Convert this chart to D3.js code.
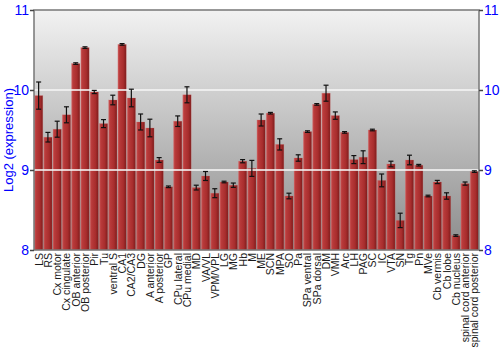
<!DOCTYPE html>
<html>
<head>
<meta charset="utf-8">
<script src="https://cdn.jsdelivr.net/npm/d3@7"></script>
<style>
  body { margin: 0; background: #fff; }
  text { font-family: "Liberation Sans", Arial, sans-serif; }
</style>
</head>
<body>
<div class="visualization"></div>
<script>
const regions = ["LS", "RS", "Cx motor", "Cx cingulate", "OB anterior", "OB posterior", "Pir", "Tu",
  "ventral S", "CA1", "CA2/CA3", "DG", "A anterior", "A posterior", "GP", "CPu lateral", "CPu medial",
  "MD", "VA/VL", "VPM/VPL", "LG", "MG", "Hb", "M", "ME", "SCN", "MPA", "SO", "Pa", "SPa ventral",
  "SPa dorsal", "DM", "VMH", "Arc", "LH", "PAG", "SC", "IC", "VTA", "SN", "Tg", "Pn", "MVe",
  "Cb vermis", "Cb lobe", "Cb nucleus", "spinal cord anterior", "spinal cord posterior"];

const expression = [9.93, 9.41, 9.51, 9.69, 10.33, 10.53, 9.975, 9.58,
  9.875, 10.57, 9.9, 9.6, 9.525, 9.125, 8.79, 9.61, 9.94,
  8.78, 8.925, 8.71, 8.85, 8.81, 9.11, 9.02, 9.625, 9.71, 9.32, 8.675, 9.15, 9.48,
  9.82, 9.96, 9.68, 9.47, 9.13, 9.16, 9.5, 8.87, 9.075, 8.37, 9.125, 9.06, 8.675,
  8.85, 8.675, 8.18, 8.83, 8.98];

const stderr = [0.17, 0.06, 0.1, 0.1, 0.01, 0.01, 0.02, 0.05,
  0.06, 0.01, 0.11, 0.1, 0.11, 0.03, 0.01, 0.066, 0.1,
  0.03, 0.056, 0.056, 0.01, 0.027, 0.02, 0.1, 0.075, 0.01, 0.07, 0.035, 0.04, 0.01,
  0.01, 0.1, 0.046, 0.01, 0.05, 0.08, 0.01, 0.08, 0.035, 0.09, 0.06, 0.01, 0.01,
  0.02, 0.04, 0.01, 0.02, 0.01];

const yTicks = [8, 9, 10, 11];

const canvaswidth = 500, canvasheight = 350;
const plotleft = 34, plotright = 479, plottop = 10, plotbottom = 250;

const svg = d3.select(".visualization").append("svg")
  .attr("width", canvaswidth).attr("height", canvasheight);

const defs = svg.append("defs");
const bg = defs.append("linearGradient").attr("id", "bg")
  .attr("x1", 0).attr("y1", 0).attr("x2", 0).attr("y2", 1);
bg.append("stop").attr("offset", "0%").attr("stop-color", "#f2f2f2");
bg.append("stop").attr("offset", "100%").attr("stop-color", "#8c8c8c");

const barGrad = defs.append("linearGradient").attr("id", "bar")
  .attr("x1", 0).attr("y1", 0).attr("x2", 1).attr("y2", 0);
barGrad.append("stop").attr("offset", "0%").attr("stop-color", "#cc5a5a");
barGrad.append("stop").attr("offset", "18%").attr("stop-color", "#b93b3b");
barGrad.append("stop").attr("offset", "65%").attr("stop-color", "#a82d2d");
barGrad.append("stop").attr("offset", "100%").attr("stop-color", "#7e1c1c");

const x = d3.scaleBand().domain(regions).range([plotleft, plotright]).paddingInner(0.1).paddingOuter(0.05);
const y = d3.scaleLinear().domain([8, 11]).range([plotbottom, plottop]);

svg.append("rect")
  .attr("x", plotleft).attr("y", plottop)
  .attr("width", plotright - plotleft).attr("height", plotbottom - plottop)
  .attr("fill", "url(#bg)");

// bars
svg.selectAll(".bar").data(expression).enter()
  .append("rect")
  .attr("x", (d, i) => x(regions[i]))
  .attr("y", d => y(d))
  .attr("width", x.bandwidth())
  .attr("height", d => y(8) - y(d))
  .attr("fill", "url(#bar)")
  .attr("stroke", "#d27070").attr("stroke-opacity", 0.4).attr("stroke-width", 0.6);

// gridlines (drawn over the bars, as in the original)
svg.selectAll(".grid").data(yTicks.filter(d => d > 8 && d < 11)).enter()
  .append("line")
  .attr("x1", plotleft).attr("x2", plotright)
  .attr("y1", d => y(d)).attr("y2", d => y(d))
  .attr("stroke", "#f4f4f4").attr("stroke-opacity", 0.8).attr("stroke-width", 2);

// error bars
const err = svg.append("g").attr("stroke", "#111").attr("stroke-width", 1.2);
expression.forEach((d, i) => {
  const cx = x(regions[i]) + x.bandwidth() / 2;
  const hi = y(d + stderr[i]), lo = y(d - stderr[i]);
  err.append("line").attr("x1", cx).attr("x2", cx).attr("y1", hi).attr("y2", lo);
  err.append("line").attr("x1", cx - 2.5).attr("x2", cx + 2.5).attr("y1", hi).attr("y2", hi);
  err.append("line").attr("x1", cx - 2.5).attr("x2", cx + 2.5).attr("y1", lo).attr("y2", lo);
});

// frame
svg.append("rect")
  .attr("x", plotleft).attr("y", plottop)
  .attr("width", plotright - plotleft).attr("height", plotbottom - plottop)
  .attr("fill", "none").attr("stroke", "#777").attr("stroke-width", 1.5);

// axes
const yaxisL = d3.axisLeft(y).tickValues(yTicks).tickSize(4).tickPadding(1).tickFormat(d3.format("d"));
const yaxisR = d3.axisRight(y).tickValues(yTicks).tickSize(4).tickPadding(1).tickFormat(d3.format("d"));

const gl = svg.append("g").attr("transform", `translate(${plotleft},0)`).call(yaxisL);
const gr = svg.append("g").attr("transform", `translate(${plotright},0)`).call(yaxisR);
[gl, gr].forEach(g => {
  g.select(".domain").remove();
  g.selectAll(".tick line").attr("stroke", "#444").attr("stroke-width", 1.5);
  g.selectAll(".tick text").attr("fill", "#0000ff").style("font-size", "14px")
    .style("font-family", "'Liberation Sans', Arial, sans-serif");
});

svg.append("text")
  .attr("transform", "rotate(-90)")
  .attr("x", -140).attr("y", 13)
  .attr("text-anchor", "middle")
  .attr("fill", "#0000ff")
  .style("font-size", "13px")
  .text("Log2 (expression)");

// x labels
svg.selectAll(".xlabel").data(regions).enter()
  .append("text")
  .attr("transform", d => `translate(${x(d) + x.bandwidth() / 2 + 4},${plotbottom + 3}) rotate(-90)`)
  .attr("text-anchor", "end")
  .attr("fill", "#1a1a1a")
  .style("font-size", "10.5px")
  .text(d => d);
</script>
</body>
</html>
